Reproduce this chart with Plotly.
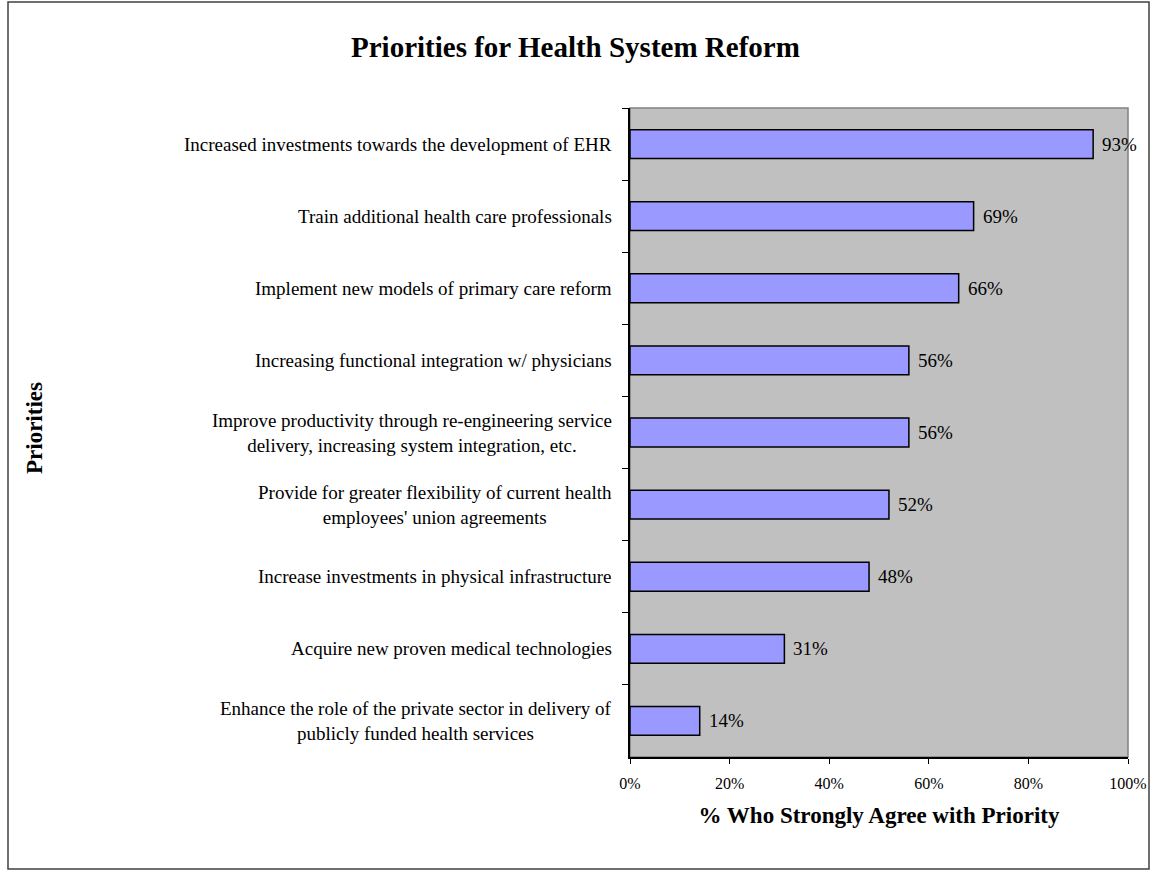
import plotly.graph_objects as go

# Survey results: share of respondents who strongly agree with each priority
priorities = [
    "Increased investments towards the development of EHR",
    "Train additional health care professionals",
    "Implement new models of primary care reform",
    "Increasing functional integration w/ physicians",
    "Improve productivity through re-engineering service<br>delivery, increasing system integration, etc.",
    "Provide for greater flexibility of current health<br>employees' union agreements",
    "Increase investments in physical infrastructure",
    "Acquire new proven medical technologies",
    "Enhance the role of the private sector in delivery of<br>publicly funded health services",
]
pct_agree = [93, 69, 66, 56, 56, 52, 48, 31, 14]
x_ticks = [0, 20, 40, 60, 80, 100]
x_tick_text = ["0%", "20%", "40%", "60%", "80%", "100%"]

W, H = 1155, 871
ML, MR, MT, MB = 630, 27, 108, 114
pw, ph = W - ML - MR, H - MT - MB

def px_x(p):
    return (p - ML) / pw

def px_y(p):
    return (H - MB - p) / ph

SERIF = "Liberation Serif, Times New Roman, serif"

fig = go.Figure(
    go.Bar(
        x=pct_agree,
        y=priorities,
        orientation="h",
        marker=dict(color="#9999FF", line=dict(color="black", width=1.5)),
        hoverinfo="skip",
    )
)

# Value labels just past the end of each bar
for name, v in zip(priorities, pct_agree):
    fig.add_annotation(
        x=v, xref="x", xshift=7, xanchor="left",
        y=name, yref="y", yanchor="middle",
        text=f"{v}%", showarrow=False,
        font=dict(family=SERIF, size=19, color="black"),
    )

# Category labels, centred line-by-line and right-aligned to the axis
for name in priorities:
    fig.add_annotation(
        x=0, xref="paper", xshift=-16, xanchor="right",
        y=name, yref="y", yanchor="middle",
        text=name, align="center", showarrow=False,
        font=dict(family=SERIF, size=19, color="black"),
    )

# Vertical axis title
fig.add_annotation(
    x=px_x(35), xref="paper", xanchor="center",
    y=px_y(428), yref="paper", yanchor="middle",
    text="<b>Priorities</b>", textangle=-90, showarrow=False,
    font=dict(family=SERIF, size=23, color="black"),
)

# Chart title
fig.add_annotation(
    x=px_x(575), xref="paper", xanchor="center",
    y=px_y(47), yref="paper", yanchor="middle",
    text="<b>Priorities for Health System Reform</b>", showarrow=False,
    font=dict(family=SERIF, size=29, color="black"),
)

# Outer chart frame
fig.add_shape(
    type="rect", xref="paper", yref="paper",
    x0=px_x(8), x1=px_x(1149), y0=px_y(869), y1=px_y(2),
    line=dict(color="#404040", width=1.5), fillcolor="rgba(0,0,0,0)",
)
# Plot area border (grey top/right)
fig.add_shape(
    type="rect", xref="paper", yref="paper",
    x0=0, x1=1, y0=0, y1=1, layer="below",
    line=dict(color="#808080", width=1.5), fillcolor="rgba(0,0,0,0)",
)

fig.update_layout(
    width=W, height=H,
    margin=dict(l=ML, r=MR, t=MT, b=MB, autoexpand=False),
    paper_bgcolor="white",
    plot_bgcolor="#C0C0C0",
    bargap=0.6,
    showlegend=False,
    font=dict(family=SERIF, color="black"),
)
fig.update_xaxes(
    range=[0, 100],
    automargin=False,
    tickvals=x_ticks, ticktext=x_tick_text,
    tickfont=dict(family=SERIF, size=16),
    ticks="outside", ticklen=5, tickcolor="black",
    ticklabelstandoff=6,
    showline=True, linecolor="black", linewidth=1.5,
    showgrid=False, zeroline=False,
    title=dict(text="<b>% Who Strongly Agree with Priority</b>",
               font=dict(family=SERIF, size=23), standoff=16),
)
fig.update_yaxes(
    categoryorder="array", categoryarray=priorities,
    autorange="reversed",
    automargin=False,
    showticklabels=False,
    ticks="outside", ticklen=6, tickcolor="black", tickson="boundaries",
    showline=True, linecolor="black", linewidth=1.5,
    showgrid=False, zeroline=False,
)

fig.write_html("out.html")
